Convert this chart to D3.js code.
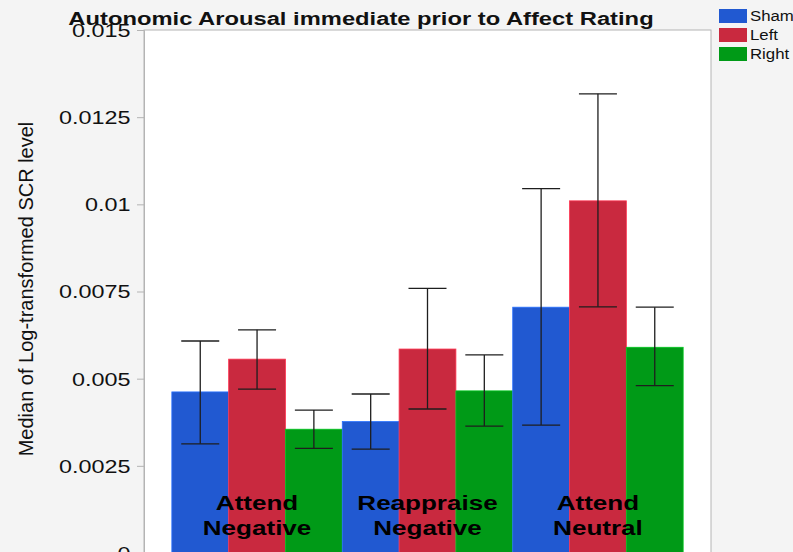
<!DOCTYPE html>
<html>
<head>
<meta charset="utf-8">
<script src="https://cdn.jsdelivr.net/npm/d3@7"></script>
<style>
  body { margin: 0; background: #f4f4f4; }
  svg { display: block; font-family: "Liberation Sans", Arial, sans-serif; }
</style>
</head>
<body>
<div id="chart"></div>
<script>
// conditions and groups
var conditions = ["Sham", "Left", "Right"];
var groups = [["Attend", "Negative"], ["Reappraise", "Negative"], ["Attend", "Neutral"]];
var colors = ["#2159d1", "#c9293f", "#009a17"];

// medians, per group: Sham, Left, Right
var medians = [
  [0.00462, 0.00556, 0.00355],
  [0.00377, 0.00585, 0.00465],
  [0.00705, 0.01010, 0.00590]
];
var errLow = [
  [0.00313, 0.00470, 0.00300],
  [0.00298, 0.00413, 0.00364],
  [0.00367, 0.00706, 0.00480]
];
var errHigh = [
  [0.00608, 0.00640, 0.00410],
  [0.00456, 0.00759, 0.00568],
  [0.01045, 0.01317, 0.00705]
];
var yTicks = [0, 0.0025, 0.005, 0.0075, 0.01, 0.0125, 0.015];

var width = 793, height = 552;
var plot = { left: 144, right: 711, top: 30, bottom: 553 };
var stretch = 1.3; // the picture is wider than it is tall

var svg = d3.select("#chart").append("svg")
  .attr("width", width)
  .attr("height", height);

svg.append("rect")
  .attr("width", width).attr("height", height)
  .attr("fill", "#f4f4f4");

svg.append("rect")
  .attr("x", plot.left).attr("y", plot.top)
  .attr("width", plot.right - plot.left)
  .attr("height", plot.bottom - plot.top + 10)
  .attr("fill", "#fff")
  .attr("stroke", "#b4b4b4");

// flat list of bars
var bars = [];
groups.forEach(function(g, gi) {
  conditions.forEach(function(c, ci) {
    bars.push({
      key: gi + "-" + ci,
      ci: ci,
      value: medians[gi][ci],
      lo: errLow[gi][ci],
      hi: errHigh[gi][ci]
    });
  });
});

var xScale = d3.scaleBand()
  .domain(bars.map(function(d) { return d.key; }))
  .range([plot.left, plot.right])
  .paddingInner(0)
  .paddingOuter(0.49);

var yScale = d3.scaleLinear()
  .domain([0, 0.015])
  .range([plot.bottom, plot.top]);

// y axis
var yAxis = d3.axisLeft(yScale)
  .tickValues(yTicks)
  .tickSize(7)
  .tickPadding(0)
  .tickFormat(function(d) { return d === 0 ? "0" : String(+d.toFixed(4)); });

var gy = svg.append("g")
  .attr("transform", "translate(" + plot.left + ",0)")
  .call(yAxis);
gy.select(".domain").attr("stroke", "#b4b4b4");
gy.selectAll(".tick line").attr("stroke", "#b4b4b4");
gy.selectAll(".tick text")
  .attr("x", -10.4)
  .attr("dy", "0.36em")
  .attr("transform", "scale(" + stretch + ",1)")
  .style("font-size", "18px")
  .attr("fill", "#111");

// bars
svg.append("g").selectAll("rect")
  .data(bars)
  .enter()
  .append("rect")
  .attr("x", function(d) { return xScale(d.key); })
  .attr("y", function(d) { return yScale(d.value); })
  .attr("width", xScale.bandwidth())
  .attr("height", function(d) { return plot.bottom - yScale(d.value) + 10; })
  .attr("fill", function(d) { return colors[d.ci]; })
  .attr("stroke", function(d) { return d3.color(colors[d.ci]).brighter(0.7); })
  .attr("stroke-width", 0.8);

// error bars
var capHalf = 19;
var eb = svg.append("g").selectAll("g")
  .data(bars)
  .enter()
  .append("g")
  .attr("stroke", "#1e1e1e")
  .attr("stroke-width", 1.3);

eb.append("line")
  .attr("x1", function(d) { return xScale(d.key) + xScale.bandwidth() / 2; })
  .attr("x2", function(d) { return xScale(d.key) + xScale.bandwidth() / 2; })
  .attr("y1", function(d) { return yScale(d.lo); })
  .attr("y2", function(d) { return yScale(d.hi); });

eb.selectAll(".cap")
  .data(function(d) { return [d.lo, d.hi].map(function(v) { return { key: d.key, v: v }; }); })
  .enter()
  .append("line")
  .attr("class", "cap")
  .attr("x1", function(d) { return xScale(d.key) + xScale.bandwidth() / 2 - capHalf; })
  .attr("x2", function(d) { return xScale(d.key) + xScale.bandwidth() / 2 + capHalf; })
  .attr("y1", function(d) { return yScale(d.v); })
  .attr("y2", function(d) { return yScale(d.v); });

// group labels inside the bars
var groupLabels = svg.append("g").selectAll("text")
  .data(groups)
  .enter()
  .append("text")
  .attr("transform", function(d, gi) {
    var cx = xScale(gi + "-1") + xScale.bandwidth() / 2;
    return "translate(" + cx + ",510) scale(1.24,1)";
  })
  .attr("text-anchor", "middle")
  .style("font-size", "21px")
  .style("font-weight", "bold")
  .attr("fill", "#000");

groupLabels.selectAll("tspan")
  .data(function(d) { return d; })
  .enter()
  .append("tspan")
  .attr("x", 0)
  .attr("y", function(d, i) { return i * 25; })
  .text(function(d) { return d; });

// title
svg.append("text")
  .attr("transform", "translate(361,25) scale(1.32,1)")
  .attr("text-anchor", "middle")
  .style("font-size", "18px")
  .style("font-weight", "bold")
  .attr("fill", "#111")
  .text("Autonomic Arousal immediate prior to Affect Rating");

// y label
svg.append("text")
  .attr("transform", "translate(33,289) rotate(-90)")
  .attr("text-anchor", "middle")
  .style("font-size", "20px")
  .attr("fill", "#111")
  .text("Median of Log-transformed SCR level");

// legend
var legend = svg.append("g").selectAll("g")
  .data(conditions)
  .enter()
  .append("g")
  .attr("transform", function(d, i) { return "translate(719," + (9 + i * 19) + ")"; });

legend.append("rect")
  .attr("width", 28)
  .attr("height", 14)
  .attr("fill", function(d, i) { return colors[i]; });

legend.append("text")
  .attr("transform", "translate(31,12) scale(1.12,1)")
  .style("font-size", "15px")
  .attr("fill", "#111")
  .text(function(d) { return d; });
</script>
</body>
</html>
